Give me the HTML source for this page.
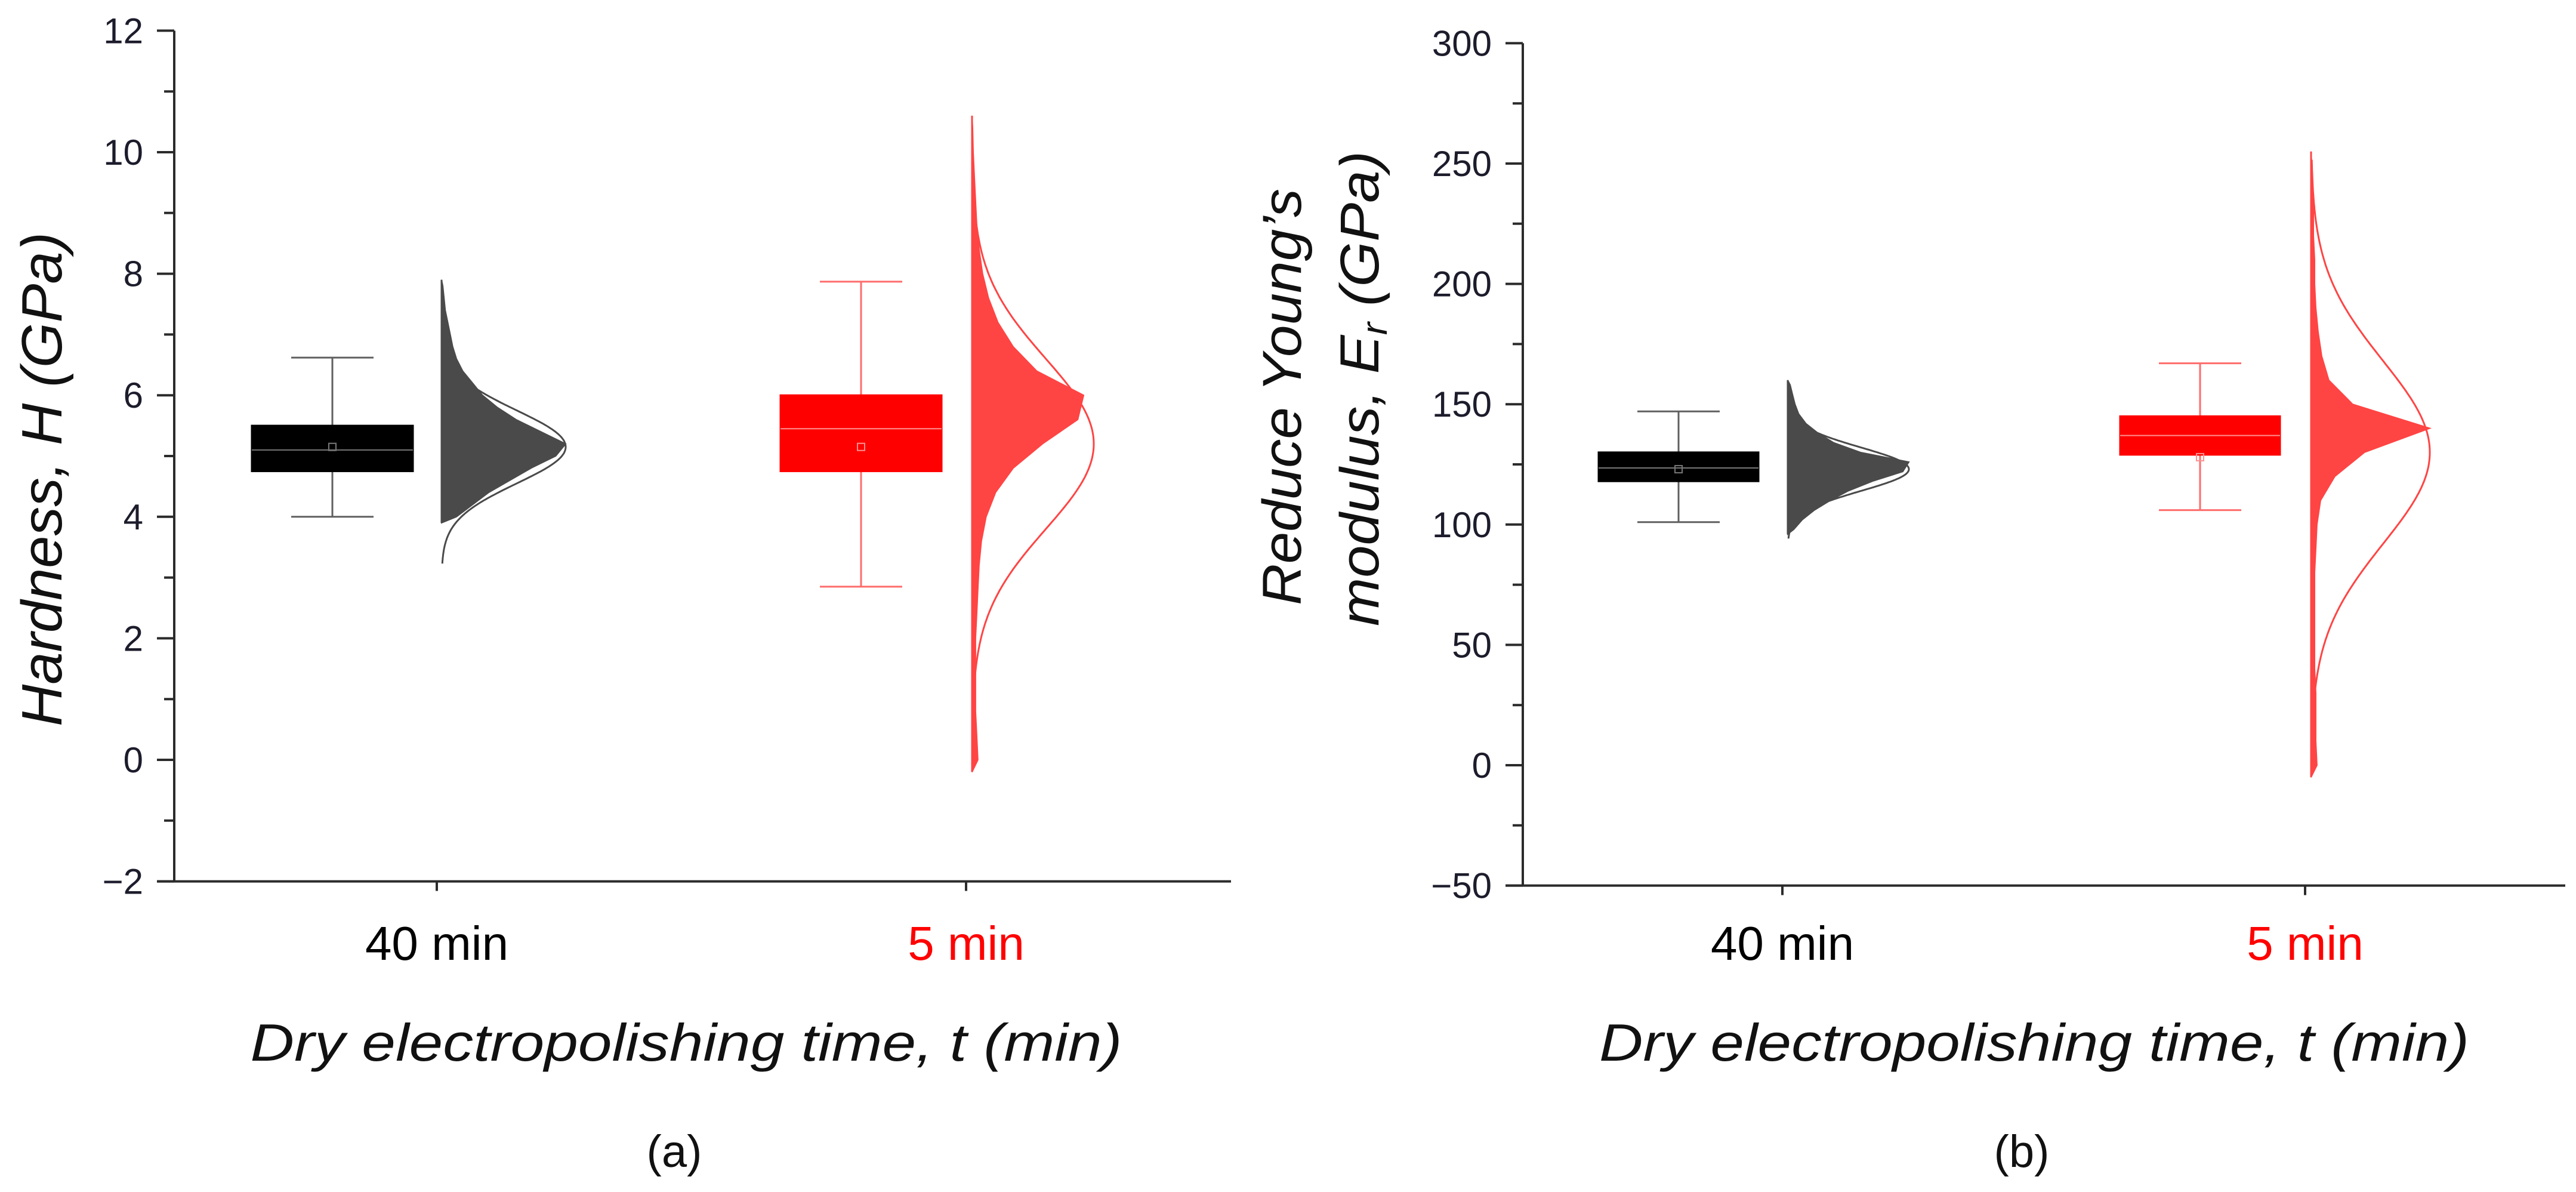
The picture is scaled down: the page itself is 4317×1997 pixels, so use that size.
<!DOCTYPE html>
<html><head><meta charset="utf-8">
<style>
html,body{margin:0;padding:0;background:#fff;}
svg{display:block;}
text{font-family:"Liberation Sans",sans-serif;}
</style></head>
<body>
<svg id="chart" width="4317" height="1997" viewBox="0 0 4317 1997" xmlns="http://www.w3.org/2000/svg">
<rect width="4317" height="1997" fill="#fff"/>
<g id="panelA"></g>
<g id="panelB"></g>

<!-- static titles -->
<text transform="translate(103,803) rotate(-90)" text-anchor="middle" font-size="96" font-style="italic" fill="#111" textLength="828" lengthAdjust="spacingAndGlyphs">Hardness, H (GPa)</text>
<text x="1150" y="1777" text-anchor="middle" font-size="88" font-style="italic" fill="#111" textLength="1461" lengthAdjust="spacingAndGlyphs">Dry electropolishing time, t (min)</text>
<text x="1130" y="1955" text-anchor="middle" font-size="76" fill="#111">(a)</text>

<text transform="translate(2180,665) rotate(-90)" text-anchor="middle" font-size="92" font-style="italic" fill="#111" textLength="698" lengthAdjust="spacingAndGlyphs">Reduce Young’s</text>
<text transform="translate(2310,651) rotate(-90)" text-anchor="middle" font-size="92" font-style="italic" fill="#111" textLength="796" lengthAdjust="spacingAndGlyphs">modulus, E<tspan font-size="60" dy="14">r</tspan><tspan dy="-14"> (GPa)</tspan></text>
<text x="3409" y="1777" text-anchor="middle" font-size="88" font-style="italic" fill="#111" textLength="1458" lengthAdjust="spacingAndGlyphs">Dry electropolishing time, t (min)</text>
<text x="3388" y="1955" text-anchor="middle" font-size="76" fill="#111">(b)</text>
</svg>

<script>
// ---------- data ----------
const categories = ["40 min", "5 min"];
const categoryColors = ["#000000", "#ff0000"];

// Panel (a): Hardness (GPa)
const aTicks = [-2, 0, 2, 4, 6, 8, 10, 12];
const aBoxQ1 = [4.75, 4.75];
const aBoxQ3 = [5.5, 6.0];
const aMedian = [5.1, 5.45];
const aMean = [5.15, 5.15];
const aWhiskLow = [4.0, 2.85];
const aWhiskHigh = [6.62, 7.87];
// histogram (bin centres + relative counts)
const aHist40Bins = [4.0,4.2,4.4,4.6,4.8,5.0,5.2,5.4,5.6,5.8,6.0,6.2,6.4,6.6,6.8,7.0,7.2,7.4,7.6,7.8];
const aHist40Counts = [12,25,38,55,72,92,100,80,60,45,33,25,17,12,9,7,5,3,2,1];
const aHist5Bins = [0.0,0.4,0.8,1.2,1.6,2.0,2.4,2.8,3.2,3.6,4.0,4.4,4.8,5.2,5.6,6.0,6.4,6.8,7.2,7.6,8.0,8.4,8.8,9.2,9.6,10.0,10.4];
const aHist5Counts = [5,4,3,3,3,3,4,5,6,8,12,20,35,60,90,95,55,35,22,14,9,6,4,3,2,1,0.5];
const aFitMean = [5.15, 5.2];
const aFitSd = [0.6, 1.4];

// Panel (b): Reduced Young's modulus (GPa)
const bTicks = [-50, 0, 50, 100, 150, 200, 250, 300];
const bBoxQ1 = [118, 129];
const bBoxQ3 = [130, 145];
const bMedian = [123.5, 137];
const bMean = [123, 128];
const bWhiskLow = [101, 106];
const bWhiskHigh = [147, 167];
const bHist40Bins = [98,102,106,110,114,118,122,126,130,134,138,142,146,150,154,158];
const bHist40Counts = [5,12,22,35,50,70,95,100,60,38,25,15,9,6,4,2];
const bHist5Bins = [0,10,20,30,40,50,60,70,80,90,100,110,120,130,140,150,160,170,180,190,200,210,220,230,240,250];
const bHist5Counts = [5,4,4,4,3,3,3,3,3,4,5,8,20,45,100,35,15,9,6,4,3,3,2,2,1,0.5];
const bFitMean = [123, 130];
const bFitSd = [9, 38];

// ---------- drawing ----------
const NS = "http://www.w3.org/2000/svg";
function mk(parent, tag, attrs) {
  const e = document.createElementNS(NS, tag);
  for (const k in attrs) e.setAttribute(k, attrs[k]);
  parent.appendChild(e);
  return e;
}

function drawPanel(g, L) {
  const y = v => L.y0 - v * L.ppu;
  // axes
  const yAx = mk(g, "line", {x1:L.ax, y1:y(L.ticks[L.ticks.length-1]), x2:L.ax, y2:y(L.ticks[0]), stroke:"#2b2b2b", "stroke-width":4});
  
  
  const xAx = mk(g, "line", {x1:L.ax-29, y1:y(L.ticks[0]), x2:L.axEnd, y2:y(L.ticks[0]), stroke:"#2b2b2b", "stroke-width":4});
  
  
  L.ticks.forEach((t, i) => {
    const tk = mk(g, "line", {x1:L.ax-29, y1:y(t), x2:L.ax, y2:y(t), stroke:"#2b2b2b", "stroke-width":4});
    
    
    if (i < L.ticks.length - 1) {
      const mid = (t + L.ticks[i+1]) / 2;
      const mt = mk(g, "line", {x1:L.ax-17, y1:y(mid), x2:L.ax, y2:y(mid), stroke:"#2b2b2b", "stroke-width":4});
      
      
    }
    const lb = mk(g, "text", {x:L.ax-52, y:y(t)+21, "text-anchor":"end", "font-size":60, fill:"#1c1c2c"});
    
    
    lb.textContent = (t < 0 ? "\u2212" + (-t) : String(t));
  });
  categories.forEach((c, i) => {
    const xt = mk(g, "line", {x1:L.xTicks[i], y1:y(L.ticks[0]), x2:L.xTicks[i], y2:y(L.ticks[0])+16, stroke:"#2b2b2b", "stroke-width":4});
    
    
    const xl = mk(g, "text", {x:L.xTicks[i], y:L.y0 + 0 + (L.labelY - L.y0), "text-anchor":"middle", "font-size":80, fill:categoryColors[i]});
    
    
    xl.textContent = c;
  });

  const boxFill = ["#000", "#ff0000"];
  const whiskCol = ["#606060", "#ff6b6b"];
  const medCol = ["#777", "#ff9090"];
  const histCol = ["#4a4a4a", "#ff4444"];
  categories.forEach((c, i) => {
    const cx = L.boxX[i], hw = L.boxHalf, cap = 69;
    const wl = mk(g, "line", {x1:cx, y1:y(L.wHigh[i]), x2:cx, y2:y(L.wLow[i]), stroke:whiskCol[i], "stroke-width":3});
    
    
    [L.wHigh[i], L.wLow[i]].forEach(v => {
      const cp = mk(g, "line", {x1:cx-cap, y1:y(v), x2:cx+cap, y2:y(v), stroke:whiskCol[i], "stroke-width":3});
      
      
    });
    const bx = mk(g, "rect", {x:cx-hw, y:y(L.q3[i]), width:2*hw, height:y(L.q1[i])-y(L.q3[i]), fill:boxFill[i], stroke:boxFill[i], "stroke-width":3});
    
    
    const md = mk(g, "line", {x1:cx-hw, y1:y(L.med[i]), x2:cx+hw, y2:y(L.med[i]), stroke:medCol[i], "stroke-width":2});
    
    
    const mn = mk(g, "rect", {x:cx-6, y:y(L.mean[i])-6, width:12, height:12, fill:"none", stroke:medCol[i], "stroke-width":2});
    
    

    // histogram area
    const bins = L.bins[i], cnt = L.counts[i], hx = L.histX[i], maxW = L.histMax[i];
    const mx = Math.max(...cnt);
    const half = (bins[1]-bins[0]) / 2;
    let pts = [[hx, y(bins[0]-half)]];
    bins.forEach((b, k) => pts.push([hx + cnt[k]/mx*maxW, y(b)]));
    pts.push([hx, y(bins[bins.length-1]+half)]);
    const hp = mk(g, "polygon", {points: pts.map(p => p[0].toFixed(1)+","+p[1].toFixed(1)).join(" "), fill:histCol[i], stroke:histCol[i], "stroke-width":2});
    
    
    const sp = mk(g, "line", {x1:hx, y1:y(bins[0]-half), x2:hx, y2:y(bins[bins.length-1]+half), stroke:histCol[i], "stroke-width":3});
    
    

    // normal fit curve
    const m = L.fm[i], s = L.fs[i];
    let d = "";
    for (let k = 0; k <= 200; k++) {
      const v = m - 3.2*s + k * 6.4*s/200;
      const w = Math.exp(-0.5*((v-m)/s)**2) * L.fitPeak[i];
      d += (k ? "L" : "M") + (hx + w).toFixed(1) + "," + y(v).toFixed(1);
    }
    const fc = mk(g, "path", {d:d, fill:"none", stroke:histCol[i], "stroke-width":3});
    
    
  });
}

drawPanel(document.getElementById("panelA"), {
  y0:1273, ppu:101.8, ax:292, axEnd:2063, ticks:aTicks, xTicks:[732,1619], labelY:1608,
  boxX:[557,1443], boxHalf:135, q1:aBoxQ1, q3:aBoxQ3, med:aMedian, mean:aMean, wLow:aWhiskLow, wHigh:aWhiskHigh,
  bins:[aHist40Bins,aHist5Bins], counts:[aHist40Counts,aHist5Counts], histX:[740,1629], histMax:[208,187],
  fm:aFitMean, fs:aFitSd, fitPeak:[208,204]
});
drawPanel(document.getElementById("panelB"), {
  y0:1282, ppu:4.032, ax:2552, axEnd:4299, ticks:bTicks, xTicks:[2987,3863], labelY:1608,
  boxX:[2813,3687], boxHalf:134, q1:bBoxQ1, q3:bBoxQ3, med:bMedian, mean:bMean, wLow:bWhiskLow, wHigh:bWhiskHigh,
  bins:[bHist40Bins,bHist5Bins], counts:[bHist40Counts,bHist5Counts], histX:[2996,3873], histMax:[203,199],
  fm:bFitMean, fs:bFitSd, fitPeak:[203,199]
});
</script>
</body></html>
